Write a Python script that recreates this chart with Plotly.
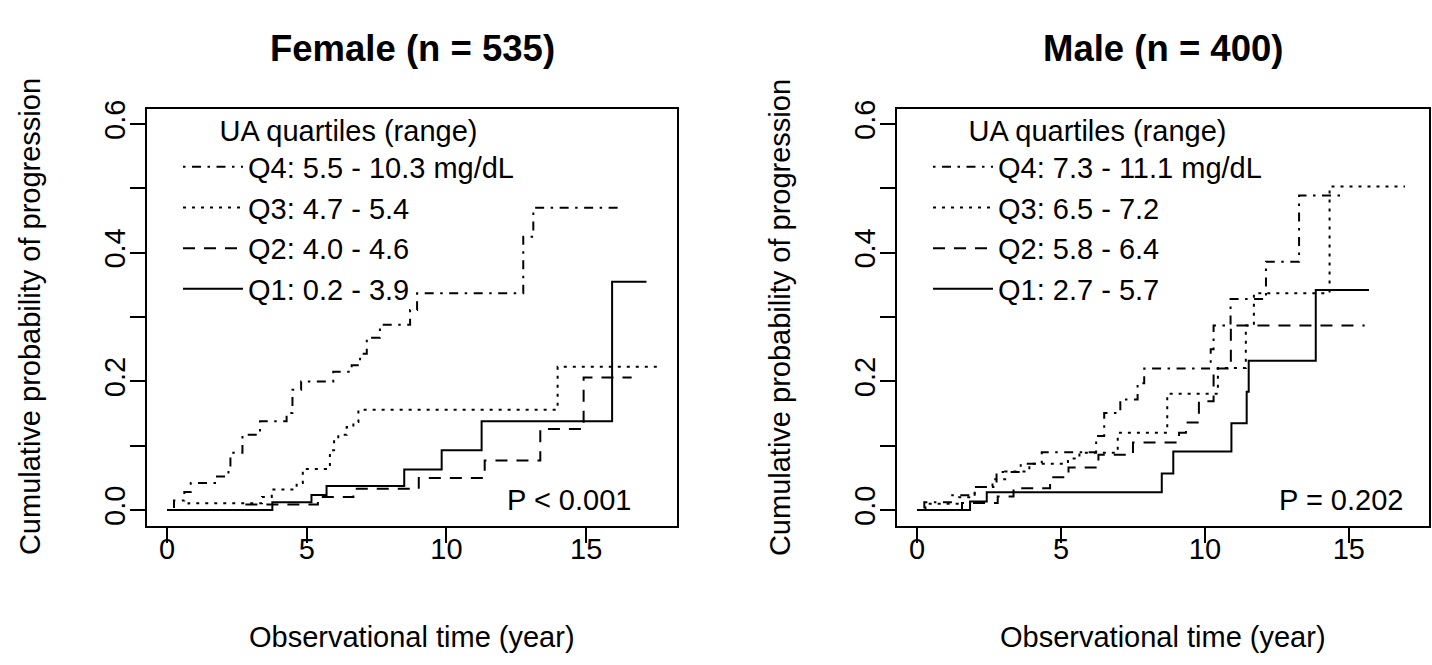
import plotly.graph_objects as go

# ---------------- data ----------------
female_title = "Female (n = 535)"
male_title = "Male (n = 400)"
legend_title = "UA quartiles (range)"
female_labels = ["Q1: 0.2 - 3.9", "Q2: 4.0 - 4.6", "Q3: 4.7 - 5.4", "Q4: 5.5 - 10.3 mg/dL"]
male_labels = ["Q1: 2.7 - 5.7", "Q2: 5.8 - 6.4", "Q3: 6.5 - 7.2", "Q4: 7.3 - 11.1 mg/dL"]
female_p = "P < 0.001"
male_p = "P = 0.202"

# female: event times (last value = end of follow-up) and cumulative probability
f_q1_t = [0, 3.77, 5.17, 5.71, 8.49, 9.83, 11.26, 15.93, 17.16]
f_q1_p = [0, 0.012, 0.0236, 0.0375, 0.063, 0.093, 0.138, 0.355, 0.355]
f_q2_t = [0, 2.78, 5.40, 6.67, 9.01, 11.37, 13.36, 14.91, 16.63]
f_q2_p = [0, 0.0087, 0.0205, 0.033, 0.050, 0.077, 0.126, 0.206, 0.206]
f_q3_t = [0, 0.77, 3.40, 3.75, 4.64, 4.86, 5.69, 5.83, 5.98, 6.13, 6.43, 6.67, 6.85, 13.98, 17.55]
f_q3_p = [0, 0.0105, 0.0205, 0.032, 0.042, 0.064, 0.070, 0.093, 0.111, 0.117, 0.129, 0.137, 0.156, 0.2226, 0.2226]
f_q4_t = [0, 0.25, 0.62, 0.85, 1.79, 2.20, 2.27, 2.70, 3.33, 4.28, 4.49, 4.80, 5.95, 6.61, 6.91, 7.15, 7.62,
          8.70, 8.95, 12.75, 13.11, 16.15]
f_q4_p = [0, 0.015, 0.028, 0.042, 0.052, 0.062, 0.089, 0.117, 0.138, 0.151, 0.187, 0.200, 0.215, 0.225, 0.243,
          0.268, 0.288, 0.311, 0.337, 0.425, 0.470, 0.470]

# male
m_q1_t = [0, 1.84, 2.42, 8.50, 8.90, 10.92, 11.45, 11.52, 13.85, 15.70]
m_q1_p = [0, 0.0133, 0.0277, 0.057, 0.091, 0.135, 0.184, 0.232, 0.342, 0.342]
m_q2_t = [0, 1.56, 2.80, 3.35, 4.62, 5.26, 6.30, 7.50, 9.10, 9.34, 9.79, 10.30, 10.90, 15.55]
m_q2_p = [0, 0.011, 0.021, 0.034, 0.051, 0.066, 0.086, 0.105, 0.120, 0.136, 0.169, 0.220, 0.287, 0.287]
m_q3_t = [0, 0.29, 1.46, 2.00, 2.62, 3.06, 3.90, 5.24, 5.64, 6.97, 8.69, 10.45, 11.42, 11.70, 14.33, 16.95]
m_q3_p = [0, 0.010, 0.020, 0.036, 0.048, 0.060, 0.072, 0.080, 0.089, 0.120, 0.181, 0.221, 0.287, 0.337, 0.503, 0.503]
m_q4_t = [0, 0.25, 1.22, 2.00, 2.76, 3.60, 4.33, 6.22, 6.50, 7.06, 7.66, 7.89, 10.20, 10.30, 10.89, 12.12, 13.27, 14.86]
m_q4_p = [0, 0.012, 0.023, 0.036, 0.059, 0.072, 0.090, 0.115, 0.151, 0.172, 0.197, 0.220, 0.250, 0.287, 0.328,
          0.386, 0.489, 0.489]

x_ticks = [0, 5, 10, 15]
y_ticks = [0, 0.1, 0.2, 0.3, 0.4, 0.5, 0.6]
y_ticktext = ["0.0", "", "0.2", "", "0.4", "", "0.6"]
female_xmax = 17.54
male_xmax = 17.11
y_max = 0.6

# ---------------- styling ----------------
W, H = 1432, 665
FONT = "Liberation Sans, Arial, Helvetica, sans-serif"
FS = 29
dashes = ["solid", "12px,9px", "3px,6px", "2.5px,6.5px,9px,6.5px"]

fig = go.Figure()

female = [(f_q1_t, f_q1_p), (f_q2_t, f_q2_p), (f_q3_t, f_q3_p), (f_q4_t, f_q4_p)]
male = [(m_q1_t, m_q1_p), (m_q2_t, m_q2_p), (m_q3_t, m_q3_p), (m_q4_t, m_q4_p)]

for i, (t, p) in enumerate(female):
    fig.add_trace(go.Scatter(x=t, y=p, mode="lines", line_shape="hv", name=female_labels[i],
                             line=dict(color="black", width=2, dash=dashes[i]),
                             xaxis="x", yaxis="y", legend="legend"))
for i, (t, p) in enumerate(male):
    fig.add_trace(go.Scatter(x=t, y=p, mode="lines", line_shape="hv", name=male_labels[i],
                             line=dict(color="black", width=2, dash=dashes[i]),
                             xaxis="x2", yaxis="y2", legend="legend2"))

def px_x(v):
    return v / W

def px_y(v):
    return 1 - v / H

f_dom = [px_x(147.4), px_x(676.7)]
m_dom = [px_x(897.4), px_x(1429.3)]
y_dom = [px_y(523.6), px_y(101)]

def xax(dom, xmax, anchor):
    pad = 0.04 * xmax
    return dict(domain=dom, range=[-pad, xmax + pad], anchor=anchor, tickvals=x_ticks,
                showline=True, mirror=True, linecolor="black", linewidth=2,
                ticks="outside", ticklen=15, tickwidth=2, tickcolor="black",
                ticklabelstandoff=-18,
                showgrid=False, zeroline=False, tickfont=dict(family=FONT, size=FS, color="black"))

def yax(anchor):
    pad = 0.04 * y_max
    return dict(domain=y_dom, range=[-pad, y_max + pad], anchor=anchor, tickvals=y_ticks,
                ticktext=y_ticktext, tickangle=-90, ticklabelstandoff=-6,
                showline=True, mirror=True, linecolor="black", linewidth=2,
                ticks="outside", ticklen=15, tickwidth=2, tickcolor="black",
                showgrid=False, zeroline=False, tickfont=dict(family=FONT, size=FS, color="black"))

def leg(xpx):
    return dict(x=px_x(xpx), y=px_y(96), xanchor="left", yanchor="top",
                title=dict(text=legend_title, side="top center", font=dict(family=FONT, size=FS, color="black")),
                font=dict(family=FONT, size=FS, color="black"), traceorder="reversed",
                bgcolor="rgba(0,0,0,0)", borderwidth=0, itemwidth=60)

fig.update_layout(
    width=W, height=H, autosize=False,
    margin=dict(l=0, r=0, t=0, b=0),
    paper_bgcolor="white", plot_bgcolor="white",
    font=dict(family=FONT, size=FS, color="black"),
    xaxis=xax(f_dom, female_xmax, "y"),
    yaxis=yax("x"),
    xaxis2=xax(m_dom, male_xmax, "y2"),
    yaxis2=yax("x2"),
    legend=leg(178),
    legend2=leg(928),
    showlegend=True,
)

annots = []
for dom, title, ptxt, pright, ylab_x in [(f_dom, female_title, female_p, 633, 30),
                                         (m_dom, male_title, male_p, 1405, 780)]:
    cx = (dom[0] + dom[1]) / 2
    annots.append(dict(text="<b>" + title + "</b>", x=cx, y=px_y(40), xref="paper", yref="paper",
                       xanchor="center", yanchor="middle", showarrow=False,
                       font=dict(family="Liberation Sans Narrow, Liberation Sans, Arial", size=36.5, color="black")))
    annots.append(dict(text="Observational time (year)", x=cx, y=px_y(637), xref="paper", yref="paper",
                       xanchor="center", yanchor="middle", showarrow=False,
                       font=dict(family=FONT, size=FS, color="black")))
    annots.append(dict(text="Cumulative probability of progression", x=px_x(ylab_x),
                       y=(y_dom[0] + y_dom[1]) / 2, xref="paper", yref="paper", textangle=-90,
                       xanchor="center", yanchor="middle", showarrow=False,
                       font=dict(family=FONT, size=FS, color="black")))
    annots.append(dict(text=ptxt, x=px_x(pright), y=px_y(498), xref="paper", yref="paper",
                       xanchor="right", yanchor="middle", showarrow=False,
                       font=dict(family=FONT, size=FS, color="black")))
fig.update_layout(annotations=annots)

fig.write_html("out.html", config={"displayModeBar": False},
               post_script="document.body.style.margin='0px';")
